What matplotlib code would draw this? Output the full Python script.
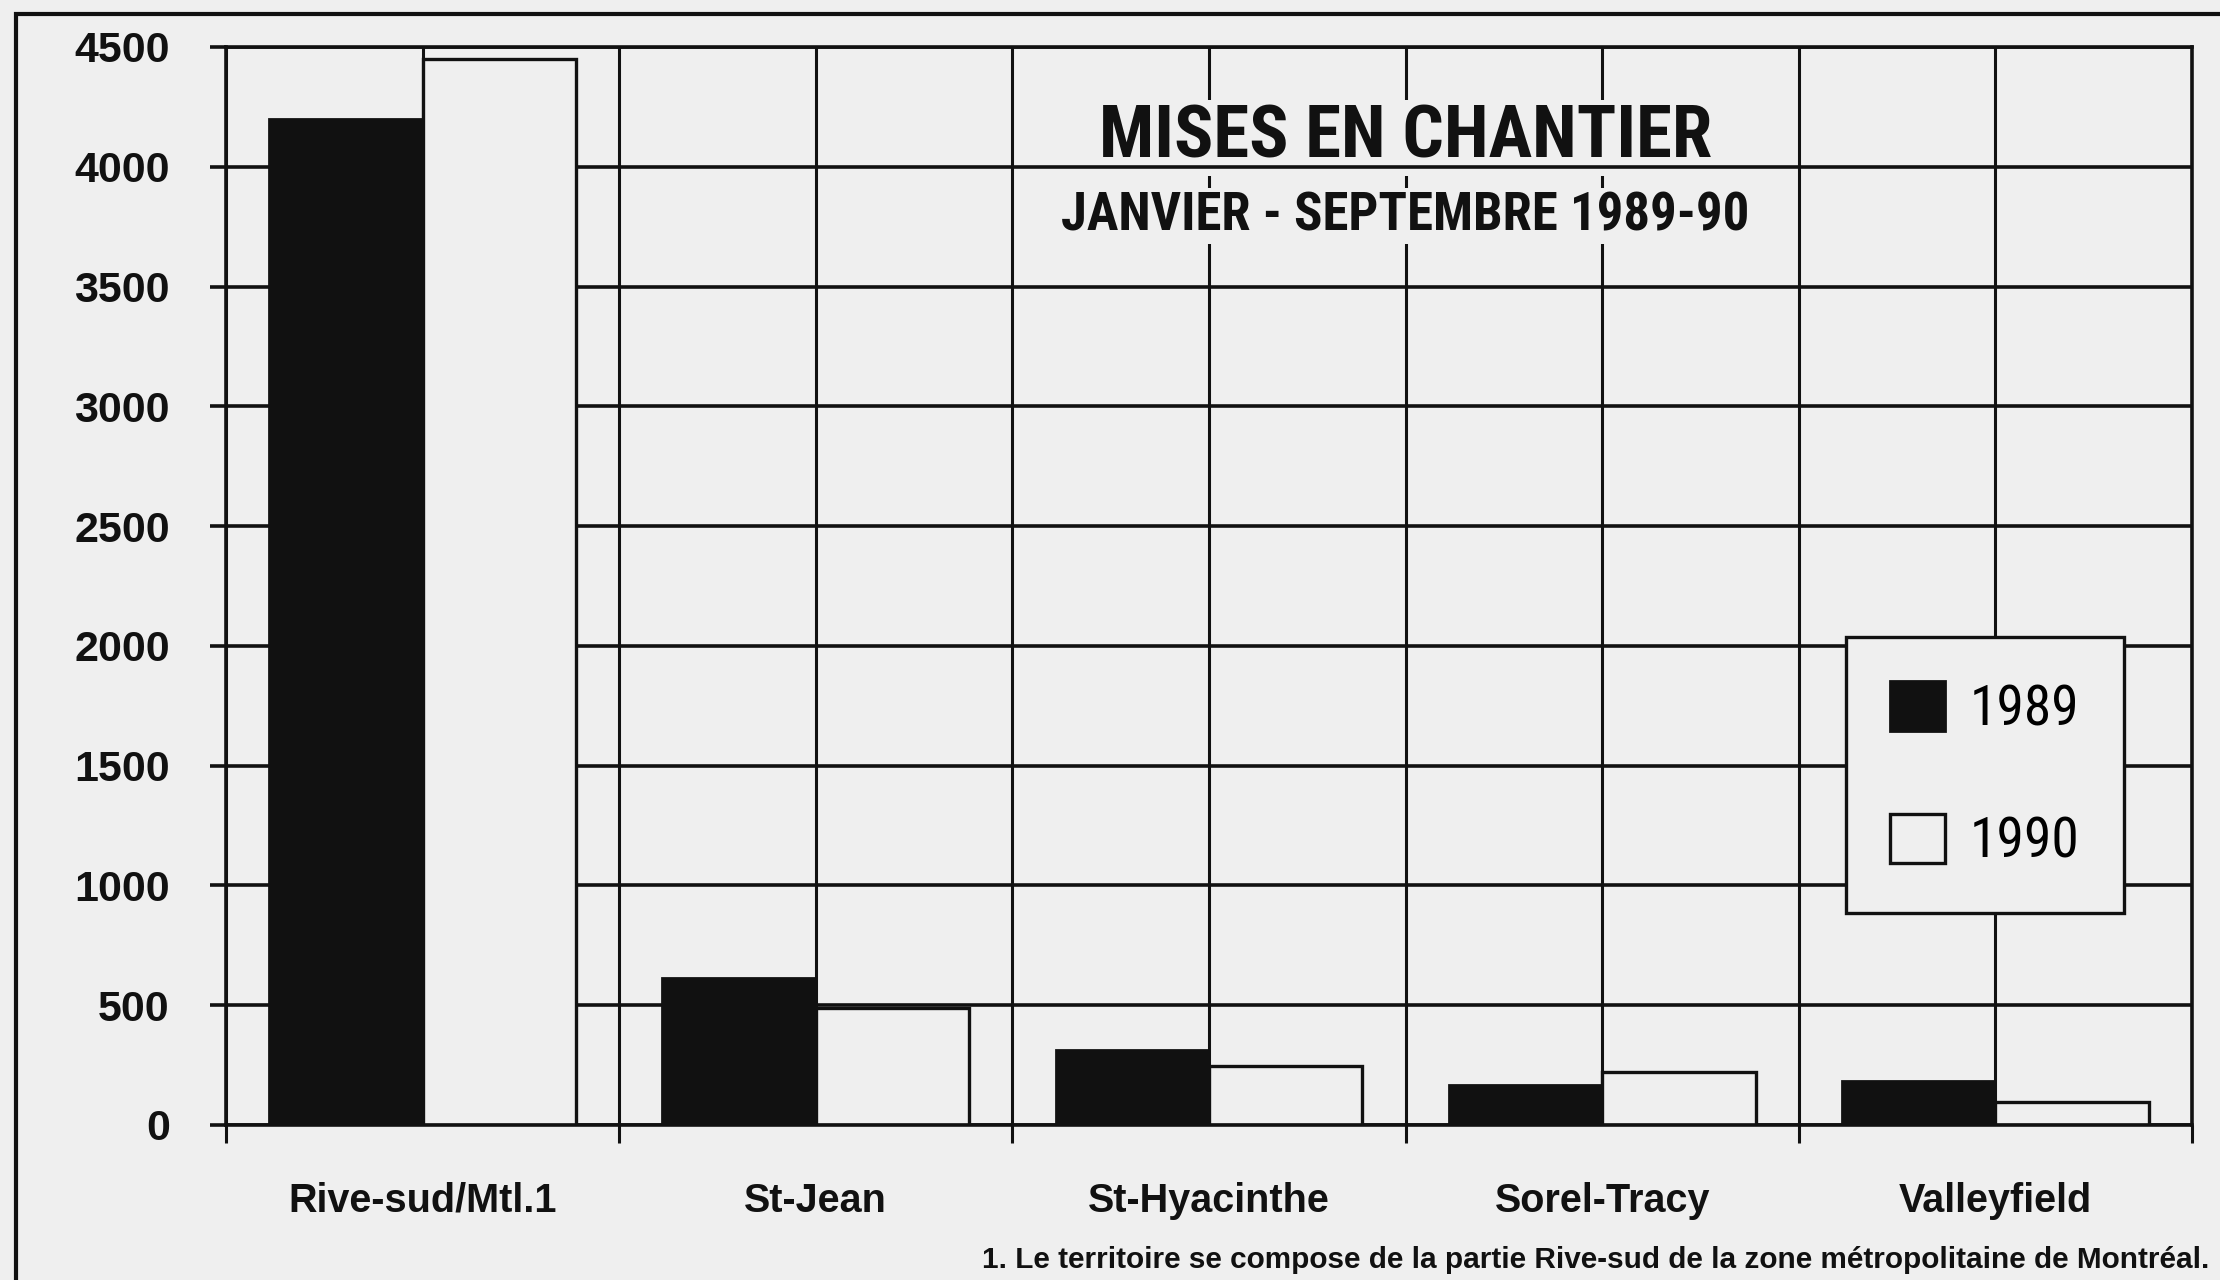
import os
import numpy as np
import matplotlib
matplotlib.use('Agg')
import matplotlib.pyplot as plt
from matplotlib import font_manager
from matplotlib.font_manager import FontProperties
from matplotlib.patches import Rectangle

# housing starts, January-September
regions = ['Rive-sud/Mtl.1', 'St-Jean', 'St-Hyacinthe', 'Sorel-Tracy', 'Valleyfield']
starts_1989 = [4200, 615, 315, 165, 185]
starts_1990 = [4450, 490, 245, 220, 95]
years = ['1989', '1990']
y_ticks = [0, 500, 1000, 1500, 2000, 2500, 3000, 3500, 4000, 4500]

title = 'MISES EN CHANTIER'
subtitle = 'JANVIER - SEPTEMBRE 1989-90'
footnote = '1. Le territoire se compose de la partie Rive-sud de la zone métropolitaine de Montréal.'

paper = '#efefef'
ink = '#111111'

plt.rcParams['font.family'] = ['Liberation Sans', 'DejaVu Sans']


def find_face(weights):
    # first narrow/condensed sans face found on the system, heaviest wanted weight first
    files = sorted({f.fname for f in font_manager.fontManager.ttflist})
    for key in ('liberationsansnarrow', 'robotocondensed', 'opensanscondensed',
                'notosanscondensed', 'dejavusanscondensed'):
        stems = {}
        for path in files:
            stem = os.path.splitext(os.path.basename(path))[0].lower()
            stem = stem.replace('-', '').replace('_', '')
            if stem.startswith(key):
                stems[stem[len(key):]] = path
        for wt in weights:
            if wt in stems:
                return stems[wt]
    return None


def face(weights, size, fallback_size):
    path = find_face(weights)
    if path:
        return FontProperties(fname=path, size=size)
    heavy = weights[0] not in ('', 'regular')
    return FontProperties(family='Liberation Sans', weight='bold' if heavy else 'normal',
                          size=fallback_size)


def main():
    fig = plt.figure(figsize=(22.2, 12.8), dpi=100, facecolor=paper)
    ax = fig.add_axes([0.1018, 0.1211, 0.8856, 0.8422])
    ax.set_facecolor(paper)

    x = np.arange(len(regions))
    w = 0.39
    b1 = ax.bar(x - w / 2, starts_1989, w, color=ink, edgecolor=ink, lw=2, zorder=1)
    b2 = ax.bar(x + w / 2, starts_1990, w, color=paper, edgecolor=ink, lw=2.4, zorder=1)

    ax.set_xlim(-0.5, len(regions) - 0.5)
    ax.set_ylim(0, 4500)

    # group separators as major ticks, names on minor ticks at the centres
    ax.set_xticks(np.arange(len(regions) + 1) - 0.5)
    ax.set_xticks(x, regions, minor=True)
    ax.set_yticks(y_ticks)
    ax.tick_params(axis='x', which='major', direction='out', length=13, width=2.2,
                   color=ink, labelbottom=False)
    ax.tick_params(axis='x', which='minor', length=0, pad=41, labelsize=28.5)
    ax.tick_params(axis='y', direction='out', length=11.5, width=2.6, color=ink,
                   pad=29, labelsize=31)
    for lab in ax.get_xticklabels(minor=True) + ax.get_yticklabels():
        lab.set_fontweight('bold')
        lab.set_color(ink)

    ax.grid(axis='x', which='both', color=ink, lw=2.2)
    ax.grid(axis='y', which='major', color=ink, lw=2.6)
    # vertical lines sit under the title boxes, horizontal lines over them
    ax.xaxis.set_zorder(0.5)
    ax.yaxis.set_zorder(0.8)
    for sp in ax.spines.values():
        sp.set_color(ink)
        sp.set_linewidth(2.6)

    heavy = ('black', 'extrabold', 'bold')
    box = dict(boxstyle='square,pad=0.05', fc=paper, ec='none')
    ax.text(2.5, 4040, title, ha='center', va='baseline', color=ink, zorder=0.7,
            bbox=box, fontproperties=face(heavy, 52.5, 43))
    ax.text(2.5, 3735, subtitle, ha='center', va='baseline', color=ink, zorder=0.7,
            bbox=box, fontproperties=face(heavy, 38, 32))

    leg_font = face(('regular', ''), 40, 36)
    square = 39.6 / leg_font.get_size_in_points()
    leg = ax.legend(handles=[b1, b2], labels=years, loc='upper left',
                    bbox_to_anchor=(0.824, 0.4527), borderaxespad=0,
                    fancybox=False, framealpha=1, facecolor=paper, edgecolor=ink,
                    prop=leg_font, handlelength=square, handleheight=square,
                    handletextpad=0.43, borderpad=0.8, labelspacing=1.4)
    leg.get_frame().set_linewidth(2.4)
    leg.set_zorder(5)

    fig.text(0.995, 0.009, footnote, ha='right', va='baseline', fontsize=21.4,
             fontweight='bold', color=ink)

    # page frame, open to the right and bottom
    fig.add_artist(Rectangle((0.0072, -0.5), 1.5, 1.489, transform=fig.transFigure,
                             fill=False, ec=ink, lw=3))

    fig.savefig('out.png', dpi=100, facecolor=paper)
    plt.close(fig)


if __name__ == '__main__':
    main()
